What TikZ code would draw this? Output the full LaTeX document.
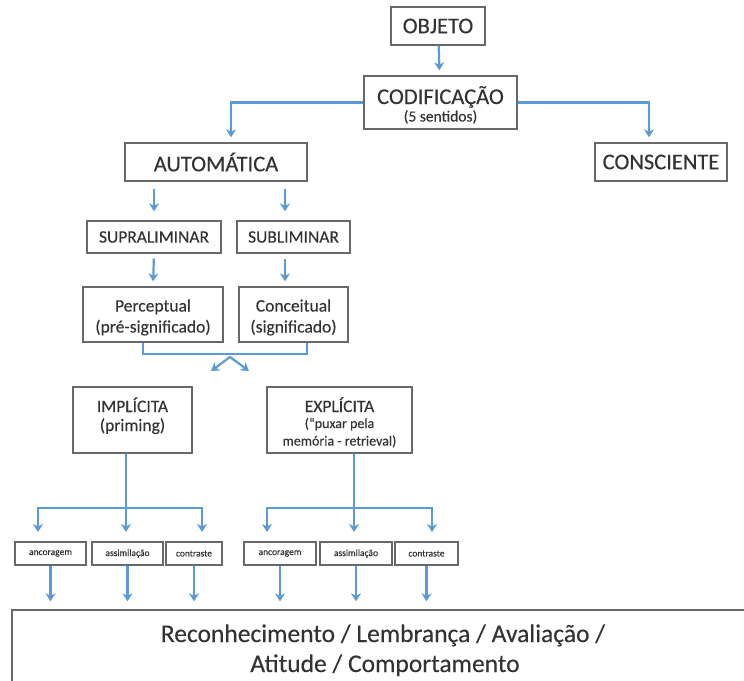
\documentclass[tikz,border=0pt]{standalone}
\usepackage{fontspec}
\setmainfont{Carlito}[FakeBold=0.25]
\usetikzlibrary{arrows.meta}
\definecolor{lineblue}{HTML}{5B9BD5}
\definecolor{boxgray}{HTML}{686868}
\definecolor{txt}{HTML}{333333}
\newcommand{\fsz}[2]{\fontsize{#1}{#2}\selectfont}
\begin{document}
\begin{tikzpicture}[x=1pt,y=-1pt,
  box/.style={draw=boxgray,line width=1.4pt,text=txt,align=center,inner sep=0pt},
  lbl/.style={text=txt,inner sep=0pt,anchor=base},
  big/.style={font=\fsz{22.5}{26}},
  mid/.style={font=\fsz{17.5}{21}},
  sml/.style={font=\fsz{15.5}{17}},
  tiny/.style={font=\fsz{9.5}{11},minimum height=23pt},
  ln/.style={draw=lineblue,line width=2.2pt},
  arr/.style={ln,-{Stealth[length=8pt,width=10pt,inset=2.5pt]}}
]
\useasboundingbox (0,0) rectangle (744,680);
\clip (0,0) rectangle (744,680);

% boxes
\node[box,big,minimum width=94pt,minimum height=38pt] (obj) at (438,26) {OBJETO};
\node[box,minimum width=153pt,minimum height=53pt] (cod) at (440.5,102.5) {};
\node[lbl,big] (codt) at (440.5,104) {CODIFICAÇÃO};
\node[lbl,sml] (cods) at (440.5,121.5) {(5 sentidos)};

\node[box,big,minimum width=182pt,minimum height=38pt] (auto) at (216,162) {AUTOMÁTICA};
\node[box,big,minimum width=132pt,minimum height=38pt] (cons) at (661,162) {CONSCIENTE};
\node[box,mid,minimum width=134pt,minimum height=32pt] (supra) at (154,237) {SUPRALIMINAR};
\node[box,mid,minimum width=113pt,minimum height=32pt] (subl) at (293.5,237) {SUBLIMINAR};

\node[box,minimum width=140pt,minimum height=55pt] (perc) at (153,314.5) {};
\node[lbl,mid] (perct) at (153,311.5) {Perceptual};
\node[lbl,mid] (percs) at (153,332.5) {(pré-significado)};
\node[box,minimum width=109pt,minimum height=55pt] (conc) at (293.5,314.5) {};
\node[lbl,mid] (conct) at (293.5,311.5) {Conceitual};
\node[lbl,mid] (concs) at (293.5,332.5) {(significado)};

\node[box,minimum width=119pt,minimum height=66pt] (impl) at (132.5,420) {};
\node[lbl,mid] (implt) at (132.5,412) {IMPLÍCITA};
\node[lbl,mid] (impls) at (132.5,431) {(priming)};
\node[box,minimum width=145pt,minimum height=66pt] (expl) at (339.5,420) {};
\node[lbl,mid] (explt) at (339.5,412) {EXPLÍCITA};
\node[lbl,font=\fsz{14}{17}] (expls) at (339.5,428) {(“puxar pela};
\node[lbl,font=\fsz{14}{17}] (explu) at (339.5,445.5) {memória - retrieval)};

\node[box,tiny,minimum width=71pt] (a1) at (50.5,553.5) {ancoragem};
\node[box,tiny,minimum width=71pt] (s1) at (127.5,553.5) {assimilação};
\node[box,tiny,minimum width=56pt] (c1) at (194,553.5) {contraste};
\node[box,tiny,minimum width=72pt] (a2) at (280,553.5) {ancoragem};
\node[box,tiny,minimum width=72pt] (s2) at (356,553.5) {assimilação};
\node[box,tiny,minimum width=63pt] (c2) at (426.5,553.5) {contraste};

\node[box,minimum width=744pt,minimum height=80pt] (res) at (384,650) {};
\node[lbl,font=\fsz{25.5}{30}] (res1) at (383,642) {Reconhecimento / Lembrança / Avaliação /};
\node[lbl,font=\fsz{25.5}{30}] (res2) at (385,672) {Atitude / Comportamento};

% connectors
\draw[arr,shorten >=5pt] (obj) -- (cod);
\draw[arr,shorten >=5pt] (cod.west) -| ([xshift=15pt]auto.north);
\draw[arr,shorten >=5pt] (cod.east) -| ([xshift=-12pt]cons.north);

\coordinate (cx) at ([xshift=-8.5pt]subl.north);
\draw[arr,shorten <=7pt,shorten >=9pt] (auto.south -| supra.north) -- (supra.north);
\draw[arr,shorten <=7pt,shorten >=9pt] (auto.south -| cx) -- (cx);
\draw[arr,shorten <=5pt,shorten >=5pt] (supra.south) -- (perc.north);
\draw[arr,shorten <=5pt,shorten >=5pt] (subl.south -| cx) -- (conc.north -| cx);

\draw[ln] ([xshift=-10pt]perc.south) -- ++(0,11) -| ([xshift=13.5pt]conc.south);
\coordinate (apex) at (230,357);
\coordinate (chl) at (211,371);
\coordinate (chr) at (249,371);
\draw[ln,line join=miter,{Stealth[length=8pt,width=10pt,inset=2.5pt]}-{Stealth[length=8pt,width=10pt,inset=2.5pt]}] (chl) -- (apex) -- (chr);

% implicit branch
\coordinate (it) at ([xshift=-6.5pt]impl.south);
\coordinate (ij) at (126,508);
\coordinate (ia) at (38,532);
\coordinate (ib) at (126,532);
\coordinate (ic) at (202,532);
\draw[ln] (it) -- (ij);
\draw[arr] (ij) -| (ia);
\draw[arr] (ij) -- (ib);
\draw[arr] (ij) -| (ic);

% explicit branch
\coordinate (et) at ([xshift=14.5pt]expl.south);
\coordinate (ej) at (354,508);
\coordinate (ea) at (267,532);
\coordinate (eb) at (354,532);
\coordinate (ec) at (432,532);
\draw[ln] (et) -- (ej);
\draw[arr] (ej) -| (ea);
\draw[arr] (ej) -- (eb);
\draw[arr] (ej) -| (ec);

% down to result
\foreach \n in {a1,s1,c1,a2,s2,c2}{
  \draw[arr,shorten >=8pt] (\n.south) -- (\n.south |- res.north);
}
\end{tikzpicture}
\end{document}
